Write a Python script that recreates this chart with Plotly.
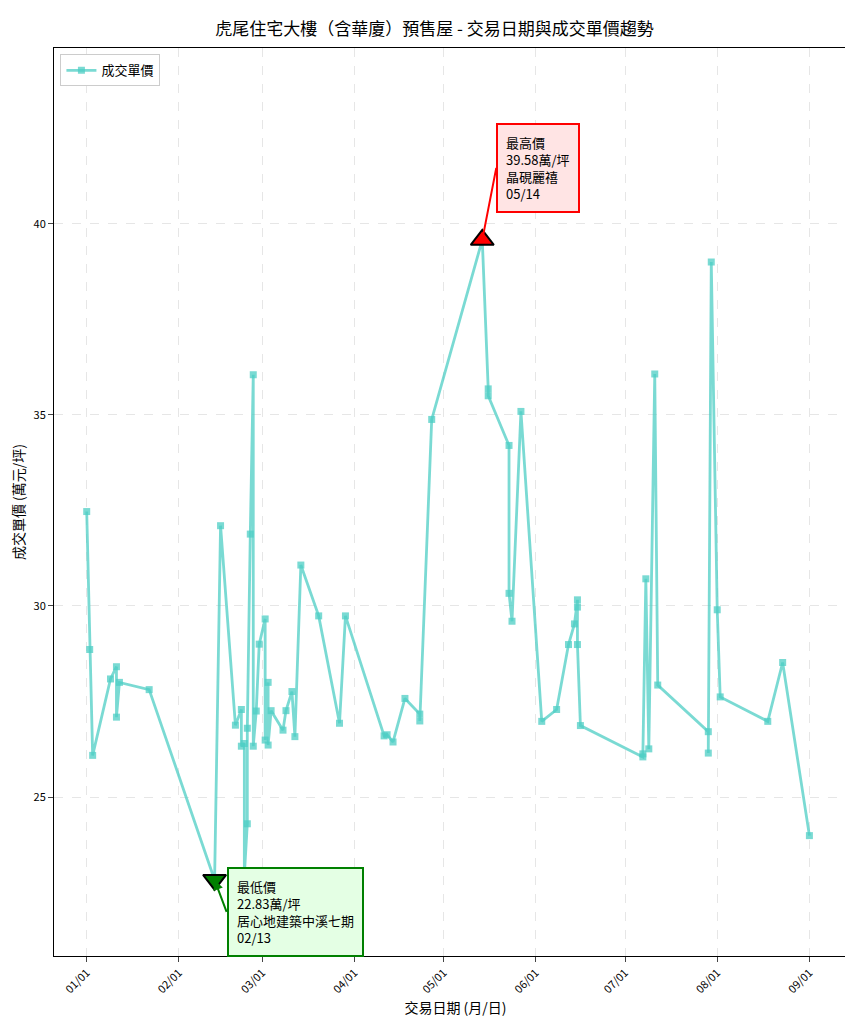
import plotly.graph_objects as go

dates = ["2025-01-01","2025-01-02","2025-01-03","2025-01-09","2025-01-11","2025-01-11","2025-01-12","2025-01-22",
         "2025-02-13","2025-02-15","2025-02-20","2025-02-22","2025-02-22","2025-02-23","2025-02-23","2025-02-24","2025-02-24",
         "2025-02-25","2025-02-26","2025-02-26","2025-02-27","2025-02-28","2025-03-02","2025-03-02","2025-03-03","2025-03-03",
         "2025-03-04","2025-03-08","2025-03-09","2025-03-11","2025-03-12","2025-03-14","2025-03-20","2025-03-27","2025-03-29",
         "2025-04-11","2025-04-12","2025-04-14","2025-04-18","2025-04-23","2025-04-23","2025-04-27",
         "2025-05-14","2025-05-16","2025-05-16","2025-05-23","2025-05-23","2025-05-24","2025-05-27",
         "2025-06-03","2025-06-08","2025-06-12","2025-06-14","2025-06-15","2025-06-15","2025-06-15","2025-06-16",
         "2025-07-07","2025-07-07","2025-07-08","2025-07-09","2025-07-11","2025-07-12",
         "2025-07-29","2025-07-29","2025-07-30","2025-08-01","2025-08-02","2025-08-18","2025-08-23","2025-09-01"]
prices = [32.47,28.86,26.09,28.09,28.41,27.09,28.0,27.81,
          22.83,32.1,26.88,27.29,26.33,26.4,22.95,24.3,26.8,
          31.88,36.05,26.33,27.25,29.0,29.66,26.49,28.0,26.36,
          27.26,26.75,27.26,27.76,26.58,31.07,29.74,26.93,29.74,
          26.6,26.63,26.44,27.58,27.17,26.99,34.88,
          39.58,35.68,35.5,34.2,30.33,29.6,35.09,
          26.98,27.29,28.99,29.53,30.16,29.97,28.99,26.87,
          26.05,26.13,30.71,26.26,36.07,27.93,
          26.71,26.15,39.0,29.9,27.62,26.98,28.52,23.99]

max_date, max_val, max_name = "2025-05-14", 39.58, "晶硯麗禧"
min_date, min_val, min_name = "2025-02-13", 22.83, "居心地建築中溪七期"
tick_vals = ["2025-01-01","2025-02-01","2025-03-01","2025-04-01","2025-05-01","2025-06-01","2025-07-01","2025-08-01","2025-09-01"]
tick_text = ["01/01","02/01","03/01","04/01","05/01","06/01","07/01","08/01","09/01"]

font = "Noto Sans CJK TC"
fig = go.Figure()
fig.add_trace(go.Scatter(x=dates, y=prices, mode="lines+markers", name="成交單價",
    line=dict(color="rgba(78,205,196,0.75)", width=2.8),
    marker=dict(symbol="square", size=7, color="rgba(78,205,196,0.75)")))
fig.add_trace(go.Scatter(x=[max_date], y=[max_val], mode="markers", showlegend=False,
    marker=dict(symbol="triangle-up", size=20, color="red", line=dict(color="black", width=2))))
fig.add_trace(go.Scatter(x=[min_date], y=[min_val], mode="markers", showlegend=False,
    marker=dict(symbol="triangle-down", size=20, color="green", line=dict(color="black", width=2))))

fig.add_annotation(x=max_date, y=max_val, text=f"最高價<br>{max_val:.2f}萬/坪<br>{max_name}<br>05/14",
    align="left", showarrow=True, arrowhead=0, arrowcolor="red", arrowwidth=2, ax=14, ay=-72,
    xanchor="left", yanchor="middle", bgcolor="#FFE4E4", bordercolor="red", borderwidth=2, borderpad=8,
    font=dict(family=font, size=13, color="black"))
fig.add_annotation(x=min_date, y=min_val, text=f"最低價<br>{min_val:.2f}萬/坪<br>{min_name}<br>02/13",
    align="left", showarrow=True, arrowhead=2, arrowcolor="green", arrowwidth=2, ax=12, ay=32,
    xanchor="left", yanchor="middle", bgcolor="#E4FFE4", bordercolor="green", borderwidth=2, borderpad=8,
    font=dict(family=font, size=13, color="black"))

fig.update_layout(
    width=853, height=1024, plot_bgcolor="white", paper_bgcolor="white",
    margin=dict(l=46, r=4, t=40, b=76),
    font=dict(family=font, size=11, color="black"),
    title=dict(text="虎尾住宅大樓（含華廈）預售屋 - 交易日期與成交單價趨勢", x=0.5, xanchor="center", y=0.985,
               font=dict(size=17, family=font)),
    legend=dict(x=0.008, y=0.993, xanchor="left", yanchor="top", bordercolor="#cccccc", borderwidth=1,
                bgcolor="white", font=dict(size=13)),
    xaxis=dict(range=["2024-12-21 00:00", "2025-09-17 00:00"], tickvals=tick_vals, ticktext=tick_text,
               tickangle=-45, showgrid=True, gridcolor="#e6e6e6", griddash="dash", showline=True, mirror=True,
               linecolor="black", ticks="outside", zeroline=False, automargin=False,
               title=dict(text="交易日期 (月/日)", font=dict(size=14), standoff=8)),
    yaxis=dict(range=[20.84, 44.6], tickvals=[25, 30, 35, 40], showgrid=True, gridcolor="#e6e6e6", griddash="dash",
               showline=True, mirror=True, linecolor="black", ticks="outside", zeroline=False, automargin=False,
               title=dict(text="成交單價 (萬元/坪)", font=dict(size=14), standoff=6)),
)
fig.write_html("out.html")
